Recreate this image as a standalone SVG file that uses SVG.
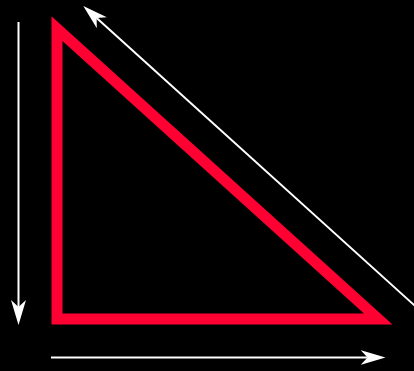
<svg xmlns="http://www.w3.org/2000/svg" width="414" height="371" viewBox="0 0 414 371">
<style>
.arrow{stroke:#ffffff;stroke-width:2;fill:none;marker-end:url(#head)}
.tri{fill:none;stroke:#ff0033;stroke-width:11;stroke-linejoin:miter}
</style>
<defs>
<marker id="head" markerUnits="userSpaceOnUse" viewBox="0 -8 26 16" markerWidth="26" markerHeight="16" refX="7" refY="0" orient="auto">
<path d="M0,-7.5 L25,0 L0,7.5 L7,0 z" fill="#ffffff"/>
</marker>
</defs>
<rect width="414" height="371" fill="#000000"/>
<g id="triangle">
<polygon class="tri" points="57,28.6 57,319 378.2,319"/>
</g>
<g id="connectors">
<path class="arrow" d="M18.5,22 L18.5,307"/>
<path class="arrow" d="M51,357.5 L367.5,357.5"/>
<path class="arrow" d="M420,310.4 L96.65,18.07"/>
</g>
</svg>
